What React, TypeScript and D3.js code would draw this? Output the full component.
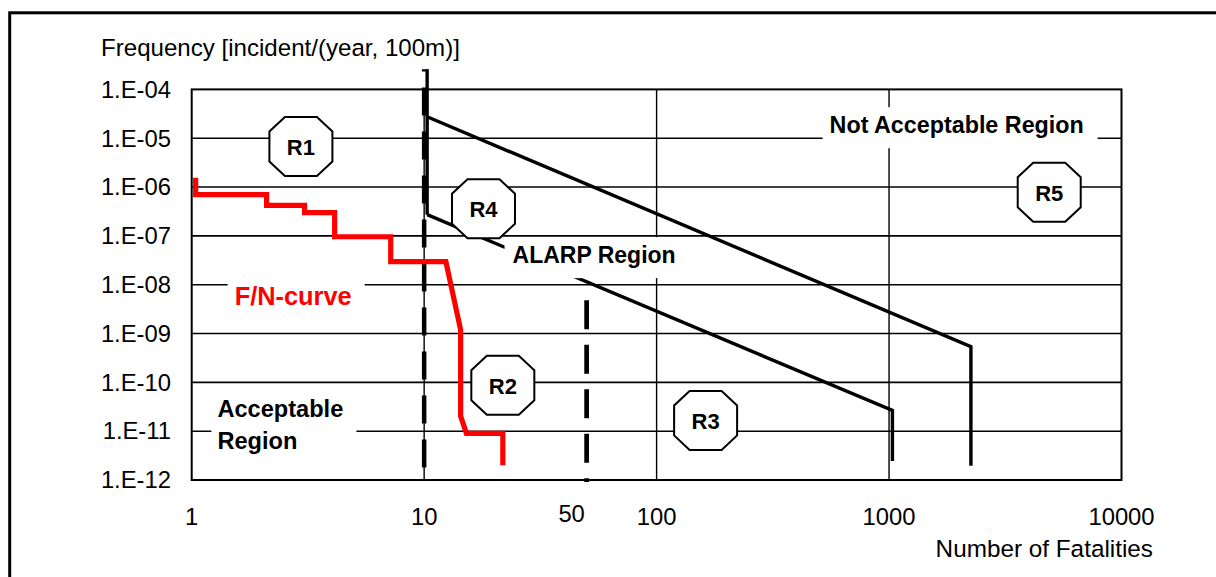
import React from "react";
import * as d3 from "d3";

// ---- data ----
const xTicks = [1, 10, 100, 1000, 10000];
const xTickLabels = ["1", "10", "100", "1000", "10000"];
const yTicks = [1e-4, 1e-5, 1e-6, 1e-7, 1e-8, 1e-9, 1e-10, 1e-11, 1e-12];
const yTickLabels = ["1.E-04", "1.E-05", "1.E-06", "1.E-07", "1.E-08", "1.E-09", "1.E-10", "1.E-11", "1.E-12"];
const xGrid = [10, 100, 1000];

// F/N curve (red)
const fnN = [1.04, 1.04, 2.1, 2.1, 3.06, 3.06, 4.12, 4.12, 7.18, 7.18, 12.4, 14.35, 14.35, 15.2, 21.8, 21.8];
const fnF = [1.55e-6, 7.0e-7, 7.0e-7, 4.2e-7, 4.2e-7, 2.98e-7, 2.98e-7, 9.6e-8, 9.6e-8, 2.96e-8, 2.96e-8, 1.2e-9, 2.04e-11, 9.0e-12, 9.0e-12, 2.0e-12];

// criteria lines (black)
const upperN = [10.3, 2250, 2250];
const upperF = [2.75e-5, 5.4e-10, 1.95e-12];
const lowerN = [10.3, 1034, 1034];
const lowerF = [2.72e-7, 2.66e-11, 2.45e-12];
const boundN = [10.3, 10.3];
const boundF = [2.6e-4, 2.72e-7];

// dashed verticals
const dashN = [10, 50];
const dashTopF = [2.6e-4, 4.8e-9];
const dashBottomF = 1e-12;
const dashLabel = "50";

// region markers
const regionLabels = ["R1", "R2", "R3", "R4", "R5"];
const regionN = [2.95, 21.8, 162.5, 18.0, 4887];
const regionF = [6.76e-6, 8.7e-11, 1.66e-11, 3.6e-7, 7.83e-7];

const yTitle = "Frequency [incident/(year, 100m)]";
const xTitle = "Number of Fatalities";

const FONT = "Arial, 'Liberation Sans', Helvetica, sans-serif";

export default function App() {
  const W = 1216, H = 577;
  const x = d3.scaleLog().domain([1, 10000]).range([191.7, 1121.5]);
  const y = d3.scaleLog().domain([1e-4, 1e-12]).range([89.4, 480]);
  const line = d3.line<[number, number]>().x((d) => x(d[0])).y((d) => y(d[1]));
  const pts = (ns: number[], fs: number[]) => ns.map((n, i) => [n, fs[i]] as [number, number]);

  const x0 = x(1), x1 = x(10000), y0 = y(1e-4), y1 = y(1e-12);

  const octagon = (cx: number, cy: number) => {
    const hw = 31.5, hh = 29.5, cxI = 15.5, cyI = 14.5;
    const p = [
      [cx - hw + cxI, cy - hh], [cx + hw - cxI, cy - hh], [cx + hw, cy - hh + cyI], [cx + hw, cy + hh - cyI],
      [cx + hw - cxI, cy + hh], [cx - hw + cxI, cy + hh], [cx - hw, cy + hh - cyI], [cx - hw, cy - hh + cyI],
    ];
    return p.map((q) => q.join(",")).join(" ");
  };

  // label anchors
  const notAcc = { x: x(555), y: y(1.27e-5) };
  const alarp = { x: x(24.0), y: y(2.83e-8) };
  const fnLab = { x: x(1.53), y: y(3.79e-9) };
  const acc = { x: x(1.29), y: y(1.98e-11) };

  return (
    <svg width={W} height={H} style={{ position: "absolute", left: 0, top: 0, background: "#fff" }} fontFamily={FONT}>
      <rect x={0} y={0} width={W} height={H} fill="#fff" />
      {/* outer frame */}
      <rect x={9.7} y={12.8} width={W + 50} height={H + 50} fill="none" stroke="#000" strokeWidth={3} />

      {/* grid */}
      {yTicks.slice(1, -1).map((t) => (
        <line key={"gy" + t} x1={x0} x2={x1} y1={y(t)} y2={y(t)} stroke="#000" strokeWidth={1.6} />
      ))}
      {xGrid.map((t) => (
        <line key={"gx" + t} x1={x(t)} x2={x(t)} y1={y0} y2={y1} stroke="#000" strokeWidth={1.4} />
      ))}
      <rect x={x0} y={y0} width={x1 - x0} height={y1 - y0} fill="none" stroke="#000" strokeWidth={2} />

      {/* y tick labels */}
      {yTicks.map((t, i) => (
        <text key={"ty" + i} x={171} y={y(t) + 8.3} textAnchor="end" fontSize={23.8} fill="#000">
          {yTickLabels[i]}
        </text>
      ))}
      {/* x tick labels */}
      {xTicks.map((t, i) => (
        <text key={"tx" + i} x={x(t)} y={525} textAnchor="middle" fontSize={23.8} fill="#000">
          {xTickLabels[i]}
        </text>
      ))}
      <text x={x(dashN[1]) - 15} y={521.7} textAnchor="middle" fontSize={23.8} fill="#000">{dashLabel}</text>

      <text x={101} y={56} fontSize={24.1} fill="#000">{yTitle}</text>
      <text x={1153} y={556.5} textAnchor="end" fontSize={24.3} fill="#000">{xTitle}</text>

      {/* criteria lines */}
      <path d={line(pts(boundN, boundF)) || ""} fill="none" stroke="#000" strokeWidth={3.4} />
      <path d={line(pts(upperN, upperF)) || ""} fill="none" stroke="#000" strokeWidth={3.4} strokeLinejoin="miter" />
      <path d={line(pts(lowerN, lowerF)) || ""} fill="none" stroke="#000" strokeWidth={3.4} strokeLinejoin="miter" />

      {/* dashed verticals */}
      <line x1={x(dashN[0])} x2={x(dashN[0])} y1={y(dashTopF[0])} y2={y(dashBottomF)} stroke="#000" strokeWidth={4.5}
        strokeDasharray="28,16" strokeDashoffset={25.7} />
      <line x1={x(dashN[1])} x2={x(dashN[1])} y1={y(dashTopF[1])} y2={y(dashBottomF) + 2} stroke="#000" strokeWidth={4.7}
        strokeDasharray="29,15.5" />

      {/* F/N curve */}
      <path d={line(pts(fnN, fnF)) || ""} fill="none" stroke="#ff0000" strokeWidth={5.2} strokeLinejoin="miter" />

      {/* labels with white background */}
      <rect x={notAcc.x - 7} y={notAcc.y - 26} width={275} height={41} fill="#fff" />
      <text x={notAcc.x} y={notAcc.y} fontSize={23.3} fontWeight="bold" fill="#000">Not Acceptable Region</text>

      <rect x={alarp.x - 8} y={alarp.y - 25.5} width={176} height={41} fill="#fff" />
      <text x={alarp.x} y={alarp.y} fontSize={23} fontWeight="bold" fill="#000">ALARP Region</text>

      <rect x={fnLab.x - 7} y={fnLab.y - 32} width={137} height={46} fill="#fff" />
      <text x={fnLab.x} y={fnLab.y} fontSize={25.4} fontWeight="bold" fill="#ff0000">F/N-curve</text>

      <rect x={acc.x - 6} y={acc.y - 23} width={145} height={64} fill="#fff" />
      <text x={acc.x} y={acc.y} fontSize={23.6} fontWeight="bold" fill="#000">
        <tspan x={acc.x} y={acc.y}>Acceptable</tspan>
        <tspan x={acc.x} y={acc.y + 32}>Region</tspan>
      </text>

      {/* region octagons */}
      {regionLabels.map((lab, i) => {
        const cx = x(regionN[i]), cy = y(regionF[i]);
        return (
          <g key={lab}>
            <polygon points={octagon(cx, cy)} fill="#fff" stroke="#000" strokeWidth={2} />
            <text x={cx} y={cy + 8.5} textAnchor="middle" fontSize={22} fontWeight="bold" fill="#000">{lab}</text>
          </g>
        );
      })}
    </svg>
  );
}
